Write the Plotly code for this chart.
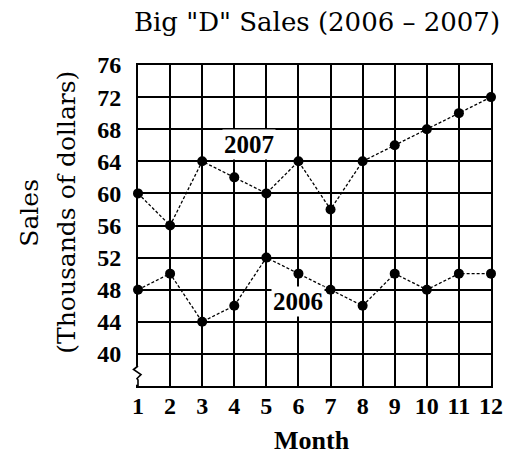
import plotly.graph_objects as go

months = list(range(1, 13))
sales_2007 = [60, 56, 64, 62, 60, 64, 58, 64, 66, 68, 70, 72]
sales_2006 = [48, 50, 44, 46, 52, 50, 48, 46, 50, 48, 50, 50]
y_ticks = [40, 44, 48, 52, 56, 60, 64, 68, 72, 76]
x_ticks = months

SERIF = "DejaVu Serif"
TIMES = "Liberation Serif"

fig = go.Figure()
for name, vals in (("2007", sales_2007), ("2006", sales_2006)):
    fig.add_trace(go.Scatter(
        x=months, y=vals, mode="lines+markers", name=name,
        line=dict(color="black", width=1.3, dash="3px,2px"),
        marker=dict(color="black", size=10),
        showlegend=False, cliponaxis=False,
    ))

fig.update_layout(
    width=514, height=447,
    margin=dict(l=130, r=31, t=57, b=69),
    paper_bgcolor="white", plot_bgcolor="white",
    title=dict(text='Big "D" Sales (2006 – 2007)', x=(317 - 8) / 514, xanchor="center",
               y=1 - 14 / 447, yanchor="middle", yref="container",
               font=dict(family=SERIF, size=26, color="black")),
    xaxis=dict(range=[1, 12], tickvals=x_ticks, ticktext=[str(m) for m in x_ticks],
               showgrid=True, gridcolor="black", gridwidth=2,
               showline=True, mirror=True, linecolor="black", linewidth=2,
               zeroline=False, ticks="", ticklabelstandoff=-3,
               tickfont=dict(family=TIMES, size=24, color="black", weight="bold")),
    yaxis=dict(range=[36, 76], tickvals=y_ticks, ticktext=[str(v) for v in y_ticks],
               showgrid=True, gridcolor="black", gridwidth=2,
               showline=True, mirror=True, linecolor="black", linewidth=2,
               zeroline=False, ticks="", ticklabelstandoff=10,
               tickfont=dict(family=TIMES, size=24, color="black", weight="bold")),
)

# axis break on the left axis
fig.add_shape(type="line", x0=0, x1=0, y0=0.004, y1=0.06, xref="paper", yref="paper",
              line=dict(color="white", width=4))
fig.add_shape(type="path", xref="paper", yref="paper",
              path="M 0 0.0623 L -0.0127 0.0514 L 0.0085 0.0358 L -0.0028 0.0234 L 0 0.0187 L 0 0",
              line=dict(color="black", width=1.6))

# series labels
fig.add_annotation(x=4.45, y=66.1, text="<b>2007</b>", showarrow=False, bgcolor="white",
                   font=dict(family=TIMES, size=25, color="black"))
fig.add_annotation(x=6.0, y=46.5, text="<b>2006</b>", showarrow=False, bgcolor="white",
                   font=dict(family=TIMES, size=25, color="black"))

# axis titles
fig.add_annotation(x=0, y=0.54, xref="paper", yref="paper", xshift=-108, text="Sales",
                   textangle=-90, showarrow=False, xanchor="center", yanchor="middle",
                   font=dict(family=SERIF, size=25, color="black"))
fig.add_annotation(x=0, y=0.54, xref="paper", yref="paper", xshift=-71, text="(Thousands of dollars)",
                   textangle=-90, showarrow=False, xanchor="center", yanchor="middle",
                   font=dict(family=SERIF, size=25, color="black"))
fig.add_annotation(x=0.494, y=0, xref="paper", yref="paper", yshift=-54, text="<b>Month</b>",
                   showarrow=False, xanchor="center", yanchor="middle",
                   font=dict(family=TIMES, size=26, color="black"))

fig.write_html("out.html")
